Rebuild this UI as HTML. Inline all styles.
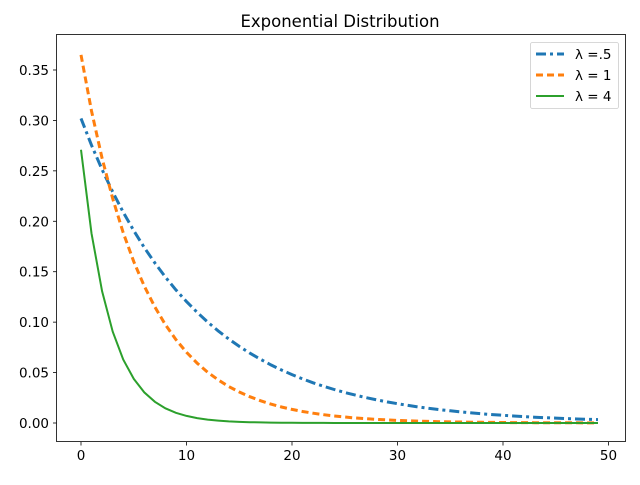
<!DOCTYPE html>
<html><head><meta charset="utf-8"><style>
body{margin:0;background:#fff}
svg text{font-family:"DejaVu Sans","Liberation Sans",sans-serif;font-size:13.5px;fill:#000}
</style></head><body>
<svg id="s" width="640" height="480" xmlns="http://www.w3.org/2000/svg">
<rect x="56.5" y="34.5" width="569" height="407" fill="none" stroke="#000" stroke-width="0.8"/>
<text x="340" y="27" text-anchor="middle" style="font-size:16.5px">Exponential Distribution</text>
<g id="ax"></g>
<g id="lines"></g>
<rect x="530.5" y="42.5" width="88" height="66" rx="2" fill="#fff" fill-opacity="0.8" stroke="#ccc" stroke-width="0.8"/>
<line x1="536" y1="54" x2="564" y2="54" stroke="#1f77b4" stroke-width="3" stroke-dasharray="10,4,3,4"/>
<line x1="536" y1="75" x2="564" y2="75" stroke="#ff7f0e" stroke-width="3" stroke-dasharray="7,4"/>
<line x1="536" y1="96" x2="564" y2="96" stroke="#2ca02c" stroke-width="2"/>
<text x="575" y="59">λ =.5</text>
<text x="575" y="80">λ = 1</text>
<text x="575" y="101">λ = 4</text>
</svg>
<script>
var X=function(v){return 81+v*10.55},Y=function(v){return 423-v*1008.6};
var ax='';
[0,10,20,30,40,50].forEach(function(t){var x=X(t);ax+='<line x1="'+x+'" y1="442" x2="'+x+'" y2="445.5" stroke="#000" stroke-width="0.8"/><text x="'+x+'" y="460" text-anchor="middle">'+t+'</text>';});
for(var i=0;i<=7;i++){var v=i*0.05,y=Y(v);ax+='<line x1="53" y1="'+y+'" x2="56.5" y2="'+y+'" stroke="#000" stroke-width="0.8"/><text x="49" y="'+(y+5)+'" text-anchor="end">'+v.toFixed(2)+'</text>';}
document.getElementById('ax').innerHTML=ax;
function pts(a,k){var p=[];for(var i=0;i<50;i++)p.push(X(i).toFixed(1)+','+Y(a*Math.exp(-k*i)).toFixed(1));return p.join(' ');}
document.getElementById('lines').innerHTML=
'<polyline points="'+pts(0.302,0.092)+'" fill="none" stroke="#1f77b4" stroke-width="3" stroke-dasharray="10,4,3,4"/>'+
'<polyline points="'+pts(0.365,0.165)+'" fill="none" stroke="#ff7f0e" stroke-width="3" stroke-dasharray="7,4"/>'+
'<polyline points="'+pts(0.271,0.365)+'" fill="none" stroke="#2ca02c" stroke-width="2"/>';
</script>
</body></html>
